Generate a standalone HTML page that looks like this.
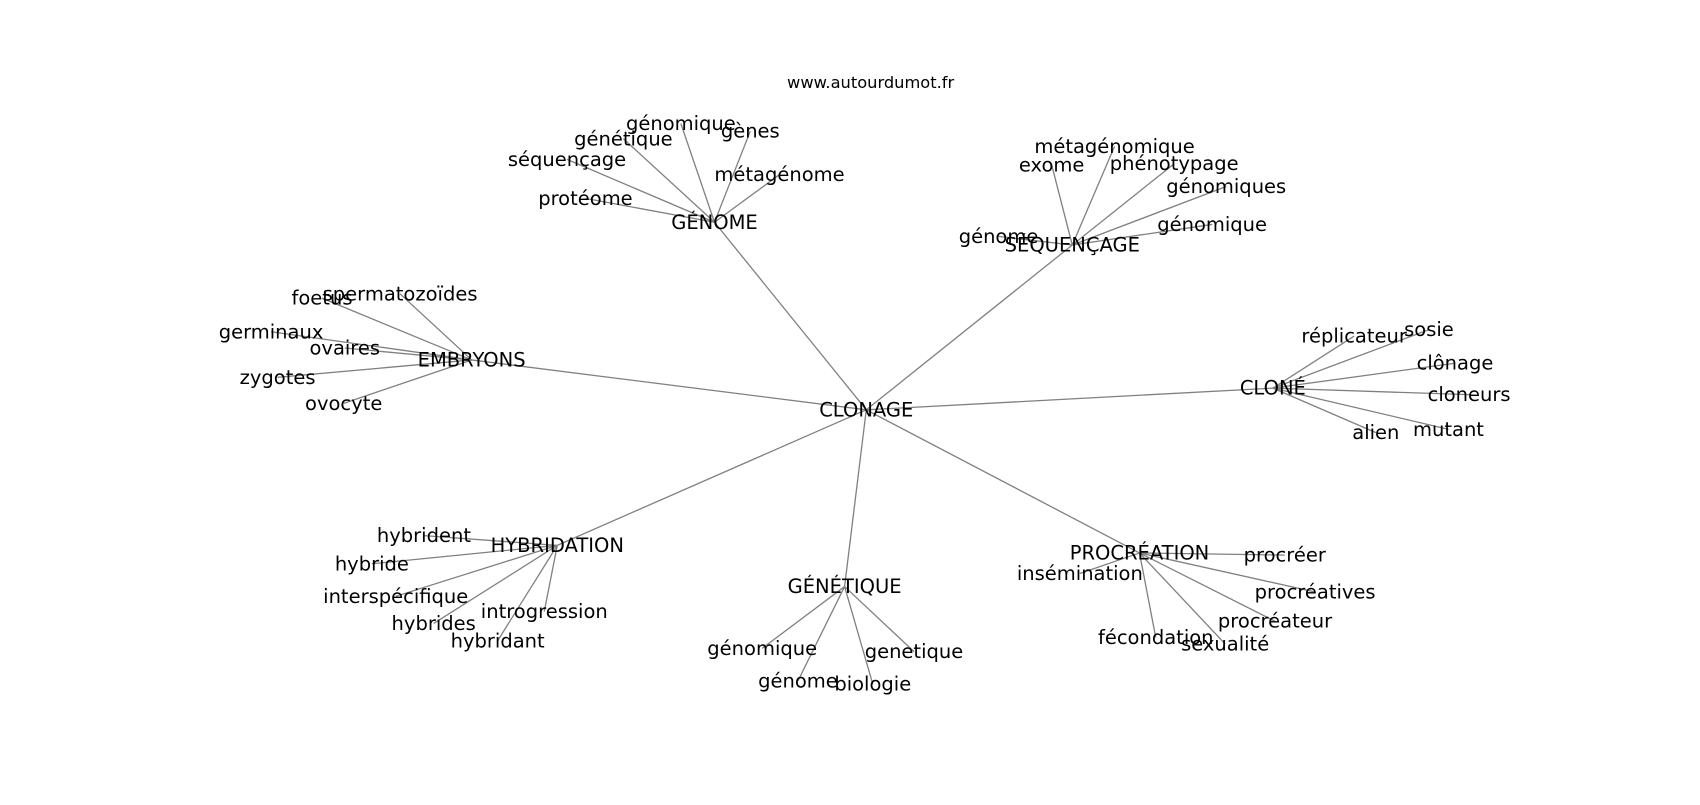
<!DOCTYPE html>
<html><head><meta charset="utf-8"><style>
html,body{margin:0;padding:0;background:#fff;}
svg text{font-family:"DejaVu Sans","Liberation Sans",sans-serif;font-size:18px;fill:#000;text-anchor:middle;dominant-baseline:central;}
</style></head><body>
<svg width="1700" height="800" xmlns="http://www.w3.org/2000/svg">
<g transform="scale(1.0842)">
<g stroke="#808080" stroke-width="1.2" fill="none">
<line x1="799" y1="378" x2="659" y2="205"/>
<line x1="799" y1="378" x2="989" y2="226"/>
<line x1="799" y1="378" x2="435" y2="332"/>
<line x1="799" y1="378" x2="1174" y2="358"/>
<line x1="799" y1="378" x2="514" y2="503"/>
<line x1="799" y1="378" x2="779" y2="541"/>
<line x1="799" y1="378" x2="1051" y2="510"/>
<line x1="659" y1="205" x2="628" y2="114"/><line x1="659" y1="205" x2="692" y2="121"/><line x1="659" y1="205" x2="575" y2="128"/><line x1="659" y1="205" x2="523" y2="147"/><line x1="659" y1="205" x2="719" y2="161"/><line x1="659" y1="205" x2="540" y2="183"/>
<line x1="989" y1="226" x2="1028" y2="135"/><line x1="989" y1="226" x2="970" y2="152"/><line x1="989" y1="226" x2="1083" y2="151"/><line x1="989" y1="226" x2="1131" y2="172"/><line x1="989" y1="226" x2="1118" y2="207"/><line x1="989" y1="226" x2="921" y2="218"/>
<line x1="435" y1="332" x2="369" y2="271"/><line x1="435" y1="332" x2="297" y2="275"/><line x1="435" y1="332" x2="250" y2="306"/><line x1="435" y1="332" x2="318" y2="321"/><line x1="435" y1="332" x2="256" y2="348"/><line x1="435" y1="332" x2="317" y2="372"/>
<line x1="1174" y1="358" x2="1249" y2="310"/><line x1="1174" y1="358" x2="1318" y2="304"/><line x1="1174" y1="358" x2="1342" y2="335"/><line x1="1174" y1="358" x2="1355" y2="364"/><line x1="1174" y1="358" x2="1269" y2="399"/><line x1="1174" y1="358" x2="1336" y2="396"/>
<line x1="514" y1="503" x2="391" y2="494"/><line x1="514" y1="503" x2="343" y2="520"/><line x1="514" y1="503" x2="365" y2="550"/><line x1="514" y1="503" x2="400" y2="575"/><line x1="514" y1="503" x2="502" y2="564"/><line x1="514" y1="503" x2="459" y2="591"/>
<line x1="779" y1="541" x2="703" y2="598"/><line x1="779" y1="541" x2="736" y2="628"/><line x1="779" y1="541" x2="805" y2="631"/><line x1="779" y1="541" x2="843" y2="601"/>
<line x1="1051" y1="510" x2="1185" y2="512"/><line x1="1051" y1="510" x2="996" y2="529"/><line x1="1051" y1="510" x2="1213" y2="546"/><line x1="1051" y1="510" x2="1176" y2="573"/><line x1="1051" y1="510" x2="1066" y2="588"/><line x1="1051" y1="510" x2="1130" y2="594"/>
</g>
<text x="803" y="76" style="font-size:15px">www.autourdumot.fr</text>
<text x="799" y="378">CLONAGE</text>
<text x="659" y="205">GÉNOME</text>
<text x="989" y="226">SÉQUENÇAGE</text>
<text x="435" y="332">EMBRYONS</text>
<text x="1174" y="358">CLONÉ</text>
<text x="514" y="503">HYBRIDATION</text>
<text x="779" y="541">GÉNÉTIQUE</text>
<text x="1051" y="510">PROCRÉATION</text>
<text x="628" y="114">génomique</text><text x="692" y="121">gènes</text><text x="575" y="128">génétique</text><text x="523" y="147">séquençage</text><text x="719" y="161">métagénome</text><text x="540" y="183">protéome</text>
<text x="1028" y="135">métagénomique</text><text x="970" y="152">exome</text><text x="1083" y="151">phénotypage</text><text x="1131" y="172">génomiques</text><text x="1118" y="207">génomique</text><text x="921" y="218">génome</text>
<text x="369" y="271">spermatozoïdes</text><text x="297" y="275">foetus</text><text x="250" y="306">germinaux</text><text x="318" y="321">ovaires</text><text x="256" y="348">zygotes</text><text x="317" y="372">ovocyte</text>
<text x="1249" y="310">réplicateur</text><text x="1318" y="304">sosie</text><text x="1342" y="335">clônage</text><text x="1355" y="364">cloneurs</text><text x="1269" y="399">alien</text><text x="1336" y="396">mutant</text>
<text x="391" y="494">hybrident</text><text x="343" y="520">hybride</text><text x="365" y="550">interspécifique</text><text x="400" y="575">hybrides</text><text x="502" y="564">introgression</text><text x="459" y="591">hybridant</text>
<text x="703" y="598">génomique</text><text x="736" y="628">génome</text><text x="805" y="631">biologie</text><text x="843" y="601">genetique</text>
<text x="1185" y="512">procréer</text><text x="996" y="529">insémination</text><text x="1213" y="546">procréatives</text><text x="1176" y="573">procréateur</text><text x="1066" y="588">fécondation</text><text x="1130" y="594">sexualité</text>
</g>
</svg>
</body></html>
